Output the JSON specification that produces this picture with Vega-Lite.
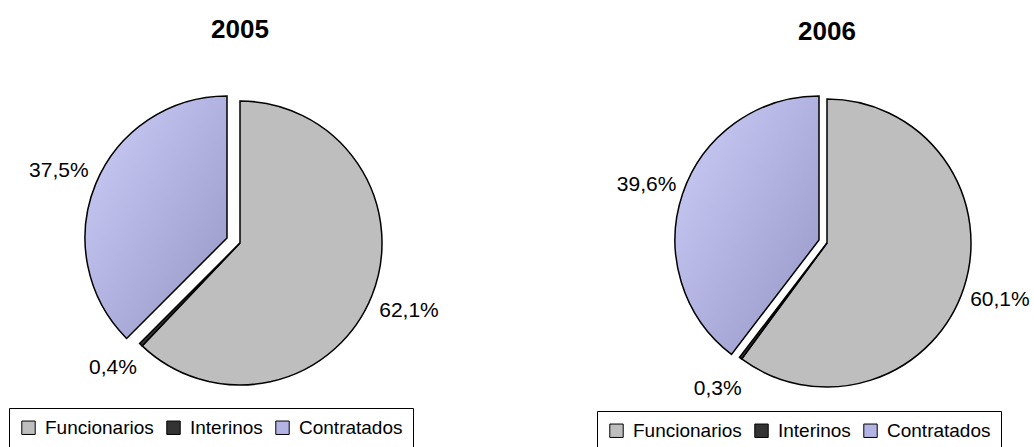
{
  "$schema": "https://vega.github.io/schema/vega-lite/v6.json",
  "padding": {"top": 17, "left": 0, "right": 0, "bottom": 0},
  "background": "white",
  "bounds": "flush",
  "spacing": 140,
  "config": {
    "view": {"stroke": null},
    "font": "Liberation Sans",
    "locale": {"number": {"decimal": ",", "thousands": ".", "grouping": [3], "currency": ["", " €"]}},
    "title": {"font": "Liberation Sans", "fontSize": 26, "fontWeight": "bold", "color": "black", "offset": 0, "anchor": "middle"},
    "legend": {
      "orient": "none", "direction": "horizontal", "title": null,
      "strokeColor": "black", "padding": 10, "fillColor": "white",
      "symbolType": "square", "symbolSize": 180, "symbolStrokeColor": "black", "symbolStrokeWidth": 1, "symbolOpacity": 1,
      "labelFont": "Liberation Sans", "labelFontSize": 19, "labelColor": "black", "labelOffset": 7, "columnPadding": 10
    }
  },
  "datasets": {
    "shares": [
      {"year": "2005", "cat": "Funcionarios", "pct": 0.621, "order": 1},
      {"year": "2005", "cat": "Interinos", "pct": 0.004, "order": 2},
      {"year": "2005", "cat": "Contratados", "pct": 0.375, "order": 3},
      {"year": "2006", "cat": "Funcionarios", "pct": 0.601, "order": 1},
      {"year": "2006", "cat": "Interinos", "pct": 0.003, "order": 2},
      {"year": "2006", "cat": "Contratados", "pct": 0.396, "order": 3}
    ]
  },
  "resolve": {"scale": {"color": "independent", "theta": "independent"}, "legend": {"color": "independent"}},
  "hconcat": [
    {
      "width": 480, "height": 392,
      "title": {"text": "2005"},
      "data": {"name": "shares"},
      "transform": [{"filter": "datum.year == '2005'"}],
      "layer": [
        {
          "transform": [
            {"stack": "pct", "groupby": [], "sort": [{"field": "order"}], "as": ["start", "end"]},
            {"filter": "datum.cat != 'Contratados'"}
          ],
          "mark": {"type": "arc", "outerRadius": 142, "stroke": "black", "strokeWidth": 1.5},
          "encoding": {
            "theta": {"field": "start", "type": "quantitative", "scale": {"domain": [0, 1]}},
            "theta2": {"field": "end"},
            "color": {
              "field": "cat", "type": "nominal",
              "scale": {"domain": ["Funcionarios", "Interinos", "Contratados"], "range": ["#BEBEBE", "#333333", "#B4B4E4"]},
              "legend": {"legendX": 9, "legendY": 361}
            }
          }
        },
        {
          "transform": [
            {"stack": "pct", "groupby": [], "sort": [{"field": "order"}], "as": ["start", "end"]},
            {"filter": "datum.cat == 'Contratados'"}
          ],
          "mark": {
            "type": "arc", "outerRadius": 142, "stroke": "black", "strokeWidth": 1.5, "xOffset": -13, "yOffset": -5,
            "fill": {"gradient": "linear", "x1": 0, "y1": 0, "x2": 1, "y2": 1, "stops": [{"offset": 0, "color": "#CECEFA"}, {"offset": 1, "color": "#9696C6"}]}
          },
          "encoding": {
            "theta": {"field": "start", "type": "quantitative", "scale": {"domain": [0, 1]}},
            "theta2": {"field": "end"}
          }
        },
        {
          "mark": {"type": "text", "radius": 182, "fontSize": 21, "font": "Liberation Sans", "color": "black",
            "xOffset": {"expr": "datum.cat == 'Contratados' ? -13 : 0"},
            "yOffset": {"expr": "datum.cat == 'Contratados' ? -2 : datum.cat == 'Interinos' ? -5 : 0"}},
          "encoding": {
            "theta": {"field": "pct", "type": "quantitative", "stack": true, "scale": {"domain": [0, 1]}},
            "order": {"field": "order"},
            "detail": {"field": "cat"},
            "text": {"field": "pct", "type": "quantitative", "format": ".1%"}
          }
        }
      ]
    },
    {
      "width": 414, "height": 392,
      "title": {"text": "2006", "dy": 2},
      "data": {"name": "shares"},
      "transform": [{"filter": "datum.year == '2006'"}],
      "layer": [
        {
          "transform": [
            {"stack": "pct", "groupby": [], "sort": [{"field": "order"}], "as": ["start", "end"]},
            {"filter": "datum.cat != 'Contratados'"}
          ],
          "mark": {"type": "arc", "outerRadius": 144, "stroke": "black", "strokeWidth": 1.5},
          "encoding": {
            "theta": {"field": "start", "type": "quantitative", "scale": {"domain": [0, 1]}},
            "theta2": {"field": "end"},
            "color": {
              "field": "cat", "type": "nominal",
              "scale": {"domain": ["Funcionarios", "Interinos", "Contratados"], "range": ["#BEBEBE", "#333333", "#B4B4E4"]},
              "legend": {"legendX": -23, "legendY": 364}
            }
          }
        },
        {
          "transform": [
            {"stack": "pct", "groupby": [], "sort": [{"field": "order"}], "as": ["start", "end"]},
            {"filter": "datum.cat == 'Contratados'"}
          ],
          "mark": {
            "type": "arc", "outerRadius": 144, "stroke": "black", "strokeWidth": 1.5, "xOffset": -8, "yOffset": -3,
            "fill": {"gradient": "linear", "x1": 0, "y1": 0, "x2": 1, "y2": 1, "stops": [{"offset": 0, "color": "#CECEFA"}, {"offset": 1, "color": "#9696C6"}]}
          },
          "encoding": {
            "theta": {"field": "start", "type": "quantitative", "scale": {"domain": [0, 1]}},
            "theta2": {"field": "end"}
          }
        },
        {
          "mark": {"type": "text", "radius": 182, "fontSize": 21, "font": "Liberation Sans", "color": "black",
            "xOffset": {"expr": "datum.cat == 'Contratados' ? -8 : 0"},
            "yOffset": {"expr": "datum.cat == 'Contratados' ? 0 : 0"}},
          "encoding": {
            "theta": {"field": "pct", "type": "quantitative", "stack": true, "scale": {"domain": [0, 1]}},
            "order": {"field": "order"},
            "detail": {"field": "cat"},
            "text": {"field": "pct", "type": "quantitative", "format": ".1%"}
          }
        }
      ]
    }
  ]
}
